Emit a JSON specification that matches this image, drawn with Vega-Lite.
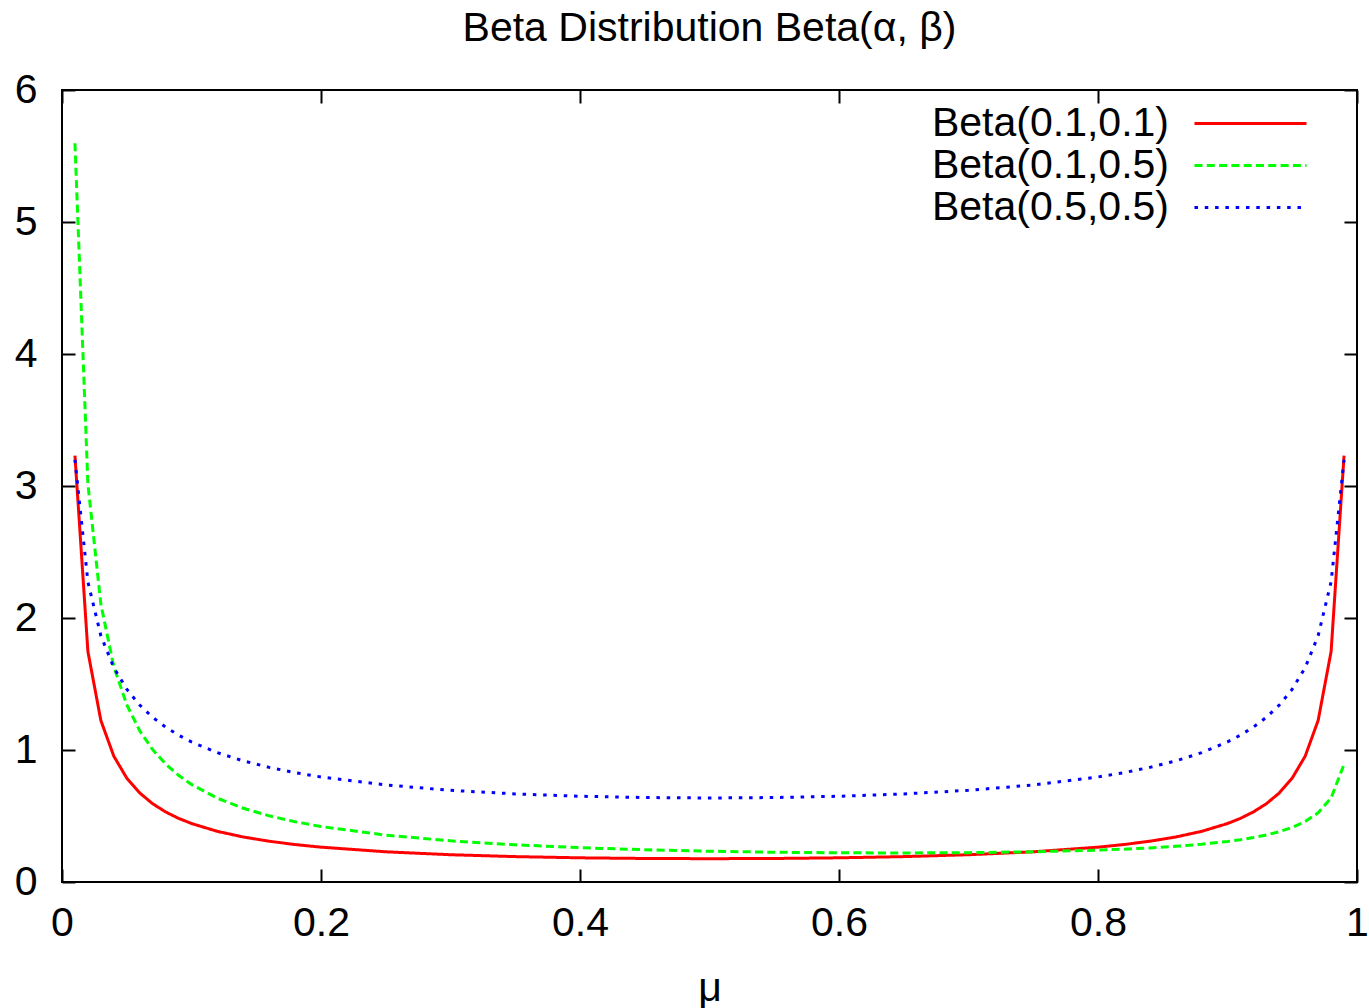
{
  "$schema": "https://vega.github.io/schema/vega-lite/v6.json",
  "autosize": {"type": "none"},
  "padding": {"left": 62, "top": 90, "right": 12, "bottom": 126},
  "width": 1295,
  "height": 792,
  "background": "white",
  "config": {
    "font": "Liberation Sans",
    "view": {"stroke": "black", "strokeWidth": 2},
    "axis": {"grid": false, "domain": false, "labelFont": "Liberation Sans", "titleFont": "Liberation Sans", "labelColor": "black", "titleColor": "black", "tickColor": "black", "tickWidth": 2}
  },
  "title": {"text": "Beta Distribution Beta(α, β)", "fontSize": 41, "fontWeight": "normal", "font": "Liberation Sans", "anchor": "middle", "offset": 19, "color": "black"},
  "data": {"values": [
    {"mu":0.01,"s":"Beta(0.1,0.1)","p":3.230},{"mu":0.01,"s":"Beta(0.1,0.5)","p":5.597},{"mu":0.01,"s":"Beta(0.5,0.5)","p":3.199},
    {"mu":0.02,"s":"Beta(0.1,0.1)","p":1.746},{"mu":0.02,"s":"Beta(0.1,0.5)","p":3.016},{"mu":0.02,"s":"Beta(0.5,0.5)","p":2.274},
    {"mu":0.03,"s":"Beta(0.1,0.1)","p":1.224},{"mu":0.03,"s":"Beta(0.1,0.5)","p":2.105},{"mu":0.03,"s":"Beta(0.5,0.5)","p":1.866},
    {"mu":0.04,"s":"Beta(0.1,0.1)","p":0.9535},{"mu":0.04,"s":"Beta(0.1,0.5)","p":1.633},{"mu":0.04,"s":"Beta(0.5,0.5)","p":1.624},
    {"mu":0.05,"s":"Beta(0.1,0.1)","p":0.7874},{"mu":0.05,"s":"Beta(0.1,0.5)","p":1.343},{"mu":0.05,"s":"Beta(0.5,0.5)","p":1.4605},
    {"mu":0.06,"s":"Beta(0.1,0.1)","p":0.6746},{"mu":0.06,"s":"Beta(0.1,0.5)","p":1.1459},{"mu":0.06,"s":"Beta(0.5,0.5)","p":1.3403},
    {"mu":0.07,"s":"Beta(0.1,0.1)","p":0.5929},{"mu":0.07,"s":"Beta(0.1,0.5)","p":1.0028},{"mu":0.07,"s":"Beta(0.5,0.5)","p":1.2476},
    {"mu":0.08,"s":"Beta(0.1,0.1)","p":0.5309},{"mu":0.08,"s":"Beta(0.1,0.5)","p":0.8940},{"mu":0.08,"s":"Beta(0.5,0.5)","p":1.1733},
    {"mu":0.09,"s":"Beta(0.1,0.1)","p":0.4822},{"mu":0.09,"s":"Beta(0.1,0.5)","p":0.8085},{"mu":0.09,"s":"Beta(0.5,0.5)","p":1.1123},
    {"mu":0.10,"s":"Beta(0.1,0.1)","p":0.4430},{"mu":0.10,"s":"Beta(0.1,0.5)","p":0.7395},{"mu":0.10,"s":"Beta(0.5,0.5)","p":1.0610},
    {"mu":0.12,"s":"Beta(0.1,0.1)","p":0.3836},{"mu":0.12,"s":"Beta(0.1,0.5)","p":0.6346},{"mu":0.12,"s":"Beta(0.5,0.5)","p":0.9795},
    {"mu":0.14,"s":"Beta(0.1,0.1)","p":0.3409},{"mu":0.14,"s":"Beta(0.1,0.5)","p":0.5588},{"mu":0.14,"s":"Beta(0.5,0.5)","p":0.9173},
    {"mu":0.16,"s":"Beta(0.1,0.1)","p":0.3088},{"mu":0.16,"s":"Beta(0.1,0.5)","p":0.5014},{"mu":0.16,"s":"Beta(0.5,0.5)","p":0.8683},
    {"mu":0.18,"s":"Beta(0.1,0.1)","p":0.2838},{"mu":0.18,"s":"Beta(0.1,0.5)","p":0.4564},{"mu":0.18,"s":"Beta(0.5,0.5)","p":0.8285},
    {"mu":0.20,"s":"Beta(0.1,0.1)","p":0.2639},{"mu":0.20,"s":"Beta(0.1,0.5)","p":0.4203},{"mu":0.20,"s":"Beta(0.5,0.5)","p":0.7958},
    {"mu":0.25,"s":"Beta(0.1,0.1)","p":0.2288},{"mu":0.25,"s":"Beta(0.1,0.5)","p":0.3551},{"mu":0.25,"s":"Beta(0.5,0.5)","p":0.7351},
    {"mu":0.30,"s":"Beta(0.1,0.1)","p":0.2066},{"mu":0.30,"s":"Beta(0.1,0.5)","p":0.3119},{"mu":0.30,"s":"Beta(0.5,0.5)","p":0.6946},
    {"mu":0.35,"s":"Beta(0.1,0.1)","p":0.1923},{"mu":0.35,"s":"Beta(0.1,0.5)","p":0.2818},{"mu":0.35,"s":"Beta(0.5,0.5)","p":0.6674},
    {"mu":0.40,"s":"Beta(0.1,0.1)","p":0.1832},{"mu":0.40,"s":"Beta(0.1,0.5)","p":0.2601},{"mu":0.40,"s":"Beta(0.5,0.5)","p":0.6497},
    {"mu":0.45,"s":"Beta(0.1,0.1)","p":0.1782},{"mu":0.45,"s":"Beta(0.1,0.5)","p":0.2443},{"mu":0.45,"s":"Beta(0.5,0.5)","p":0.6398},
    {"mu":0.50,"s":"Beta(0.1,0.1)","p":0.1766},{"mu":0.50,"s":"Beta(0.1,0.5)","p":0.2331},{"mu":0.50,"s":"Beta(0.5,0.5)","p":0.6366},
    {"mu":0.55,"s":"Beta(0.1,0.1)","p":0.1782},{"mu":0.55,"s":"Beta(0.1,0.5)","p":0.2255},{"mu":0.55,"s":"Beta(0.5,0.5)","p":0.6398},
    {"mu":0.60,"s":"Beta(0.1,0.1)","p":0.1832},{"mu":0.60,"s":"Beta(0.1,0.5)","p":0.2211},{"mu":0.60,"s":"Beta(0.5,0.5)","p":0.6497},
    {"mu":0.65,"s":"Beta(0.1,0.1)","p":0.1923},{"mu":0.65,"s":"Beta(0.1,0.5)","p":0.2200},{"mu":0.65,"s":"Beta(0.5,0.5)","p":0.6674},
    {"mu":0.70,"s":"Beta(0.1,0.1)","p":0.2066},{"mu":0.70,"s":"Beta(0.1,0.5)","p":0.2223},{"mu":0.70,"s":"Beta(0.5,0.5)","p":0.6946},
    {"mu":0.75,"s":"Beta(0.1,0.1)","p":0.2288},{"mu":0.75,"s":"Beta(0.1,0.5)","p":0.2288},{"mu":0.75,"s":"Beta(0.5,0.5)","p":0.7351},
    {"mu":0.80,"s":"Beta(0.1,0.1)","p":0.2639},{"mu":0.80,"s":"Beta(0.1,0.5)","p":0.2414},{"mu":0.80,"s":"Beta(0.5,0.5)","p":0.7958},
    {"mu":0.82,"s":"Beta(0.1,0.1)","p":0.2838},{"mu":0.82,"s":"Beta(0.1,0.5)","p":0.2489},{"mu":0.82,"s":"Beta(0.5,0.5)","p":0.8285},
    {"mu":0.84,"s":"Beta(0.1,0.1)","p":0.3088},{"mu":0.84,"s":"Beta(0.1,0.5)","p":0.2583},{"mu":0.84,"s":"Beta(0.5,0.5)","p":0.8683},
    {"mu":0.86,"s":"Beta(0.1,0.1)","p":0.3409},{"mu":0.86,"s":"Beta(0.1,0.5)","p":0.2703},{"mu":0.86,"s":"Beta(0.5,0.5)","p":0.9173},
    {"mu":0.88,"s":"Beta(0.1,0.1)","p":0.3836},{"mu":0.88,"s":"Beta(0.1,0.5)","p":0.2860},{"mu":0.88,"s":"Beta(0.5,0.5)","p":0.9795},
    {"mu":0.90,"s":"Beta(0.1,0.1)","p":0.4430},{"mu":0.90,"s":"Beta(0.1,0.5)","p":0.3071},{"mu":0.90,"s":"Beta(0.5,0.5)","p":1.0610},
    {"mu":0.91,"s":"Beta(0.1,0.1)","p":0.4822},{"mu":0.91,"s":"Beta(0.1,0.5)","p":0.3205},{"mu":0.91,"s":"Beta(0.5,0.5)","p":1.1123},
    {"mu":0.92,"s":"Beta(0.1,0.1)","p":0.5309},{"mu":0.92,"s":"Beta(0.1,0.5)","p":0.3366},{"mu":0.92,"s":"Beta(0.5,0.5)","p":1.1733},
    {"mu":0.93,"s":"Beta(0.1,0.1)","p":0.5929},{"mu":0.93,"s":"Beta(0.1,0.5)","p":0.3563},{"mu":0.93,"s":"Beta(0.5,0.5)","p":1.2476},
    {"mu":0.94,"s":"Beta(0.1,0.1)","p":0.6746},{"mu":0.94,"s":"Beta(0.1,0.5)","p":0.3812},{"mu":0.94,"s":"Beta(0.5,0.5)","p":1.3403},
    {"mu":0.95,"s":"Beta(0.1,0.1)","p":0.7874},{"mu":0.95,"s":"Beta(0.1,0.5)","p":0.4136},{"mu":0.95,"s":"Beta(0.5,0.5)","p":1.4605},
    {"mu":0.96,"s":"Beta(0.1,0.1)","p":0.9535},{"mu":0.96,"s":"Beta(0.1,0.5)","p":0.4581},{"mu":0.96,"s":"Beta(0.5,0.5)","p":1.624},
    {"mu":0.97,"s":"Beta(0.1,0.1)","p":1.224},{"mu":0.97,"s":"Beta(0.1,0.5)","p":0.5241},{"mu":0.97,"s":"Beta(0.5,0.5)","p":1.866},
    {"mu":0.98,"s":"Beta(0.1,0.1)","p":1.746},{"mu":0.98,"s":"Beta(0.1,0.5)","p":0.6359},{"mu":0.98,"s":"Beta(0.5,0.5)","p":2.274},
    {"mu":0.99,"s":"Beta(0.1,0.1)","p":3.230},{"mu":0.99,"s":"Beta(0.1,0.5)","p":0.891},{"mu":0.99,"s":"Beta(0.5,0.5)","p":3.199}
  ]},
  "resolve": {"axis": {"x": "independent", "y": "independent"}},
  "layer": [
    {
      "mark": {"type": "line", "strokeWidth": 3, "strokeCap": "butt", "clip": true},
      "encoding": {
        "x": {"field": "mu", "type": "quantitative", "scale": {"domain": [0, 1], "nice": false, "zero": false},
              "axis": {"orient": "bottom", "values": [0, 0.2, 0.4, 0.6, 0.8, 1], "format": "~g", "title": "μ", "titleFontSize": 41, "titleFontWeight": "normal", "titlePadding": 25, "labelFontSize": 41, "tickSize": -13, "labelPadding": 34, "labelFlush": false, "labelOverlap": false}},
        "y": {"field": "p", "type": "quantitative", "scale": {"domain": [0, 6], "nice": false, "zero": true},
              "axis": {"orient": "left", "values": [0, 1, 2, 3, 4, 5, 6], "title": null, "labelFontSize": 41, "tickSize": -13, "labelPadding": 38, "labelFlush": false, "labelOverlap": false}},
        "color": {"field": "s", "type": "nominal", "title": null,
                  "scale": {"domain": ["Beta(0.1,0.1)", "Beta(0.1,0.5)", "Beta(0.5,0.5)"], "range": ["#ff0000", "#00ff00", "#0000ff"]},
                  "legend": {"orient": "none", "legendX": 1168, "legendY": 13, "padding": 0, "labelFontSize": 41, "labelFont": "Liberation Sans", "labelColor": "black", "labelAlign": "right", "labelOffset": -102, "symbolType": "M-5,0H5", "symbolSize": 502, "symbolStrokeWidth": 3, "rowPadding": 0, "labelLimit": 0}},
        "strokeDash": {"field": "s", "type": "nominal", "title": null,
                  "scale": {"domain": ["Beta(0.1,0.1)", "Beta(0.1,0.5)", "Beta(0.5,0.5)"], "range": [[1, 0], [8, 4.3], [3.5, 6.8]]},
                  "legend": {"orient": "none", "legendX": 1168, "legendY": 13, "padding": 0, "labelFontSize": 41, "labelFont": "Liberation Sans", "labelColor": "black", "labelAlign": "right", "labelOffset": -102, "symbolType": "M-5,0H5", "symbolSize": 502, "symbolStrokeWidth": 3, "rowPadding": 0, "labelLimit": 0}}
      }
    },
    {
      "mark": {"type": "line", "opacity": 0},
      "encoding": {
        "x": {"field": "mu", "type": "quantitative", "axis": {"orient": "top", "values": [0, 0.2, 0.4, 0.6, 0.8, 1], "labels": false, "title": null, "tickSize": -13}},
        "y": {"field": "p", "type": "quantitative", "axis": {"orient": "right", "values": [0, 1, 2, 3, 4, 5, 6], "labels": false, "title": null, "tickSize": -13}},
        "detail": {"field": "s", "type": "nominal"}
      }
    }
  ]
}
